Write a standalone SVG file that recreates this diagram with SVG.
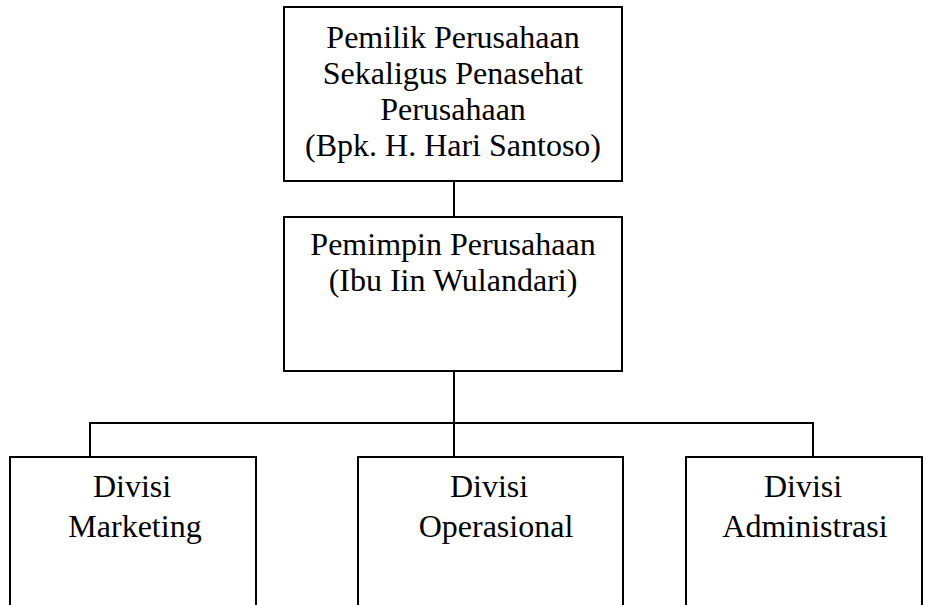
<svg xmlns="http://www.w3.org/2000/svg" width="927" height="605" viewBox="0 0 927 605">
<style>
.box{fill:#fff;stroke:#000;stroke-width:2}
.ln{fill:none;stroke:#000;stroke-width:2}
text{font-family:"Liberation Serif","Times New Roman",serif;font-size:32px;fill:#000;text-anchor:middle}
</style>
<rect width="927" height="605" fill="#fff"/>
<g id="connectors">
<line class="ln" x1="454" y1="181" x2="454" y2="217"/>
<line class="ln" x1="454" y1="371" x2="454" y2="457"/>
<polyline class="ln" points="90,457 90,423 813,423 813,457"/>
</g>
<g id="owner">
<rect class="box" x="284" y="7" width="338" height="174"/>
<text x="453" y="48">Pemilik Perusahaan</text>
<text x="453" y="84">Sekaligus Penasehat</text>
<text x="453" y="120">Perusahaan</text>
<text x="453" y="156">(Bpk. H. Hari Santoso)</text>
</g>
<g id="leader">
<rect class="box" x="284" y="217" width="338" height="154"/>
<text x="453" y="255">Pemimpin Perusahaan</text>
<text x="453" y="291">(Ibu Iin Wulandari)</text>
</g>
<g id="marketing">
<rect class="box" x="10" y="457" width="246" height="160"/>
<text x="132" y="497">Divisi</text>
<text x="135" y="537">Marketing</text>
</g>
<g id="operasional">
<rect class="box" x="358" y="457" width="265" height="160"/>
<text x="489" y="497">Divisi</text>
<text x="496" y="537">Operasional</text>
</g>
<g id="administrasi">
<rect class="box" x="686" y="457" width="236" height="160"/>
<text x="803" y="497">Divisi</text>
<text x="805" y="537">Administrasi</text>
</g>
</svg>
